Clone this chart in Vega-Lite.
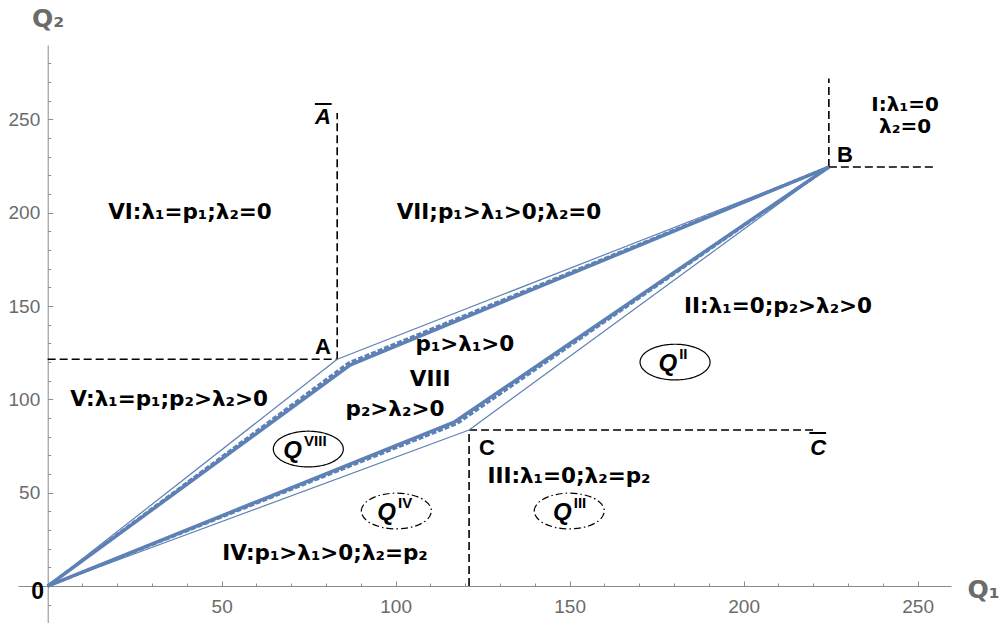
{
  "$schema": "https://vega.github.io/schema/vega-lite/v6.json",
  "width": 933,
  "height": 578,
  "autosize": {"type": "none"},
  "padding": {"left": 18, "top": 45, "right": 49, "bottom": 0},
  "config": {"view": {"stroke": null}, "font": "Liberation Sans"},
  "resolve": {"axis": {"x": "independent", "y": "independent"}},
  "datasets": {
    "curves": [
      {"x": 0, "y": 0, "g": "tu", "k": "thin", "o": 0},
      {"x": 83.2, "y": 121.5, "g": "tu", "k": "thin", "o": 1},
      {"x": 224.5, "y": 224.5, "g": "tu", "k": "thin", "o": 2},
      {"x": 0, "y": 0, "g": "tl", "k": "thin", "o": 0},
      {"x": 121.1, "y": 83.6, "g": "tl", "k": "thin", "o": 1},
      {"x": 224.5, "y": 224.5, "g": "tl", "k": "thin", "o": 2},
      {"x": 0, "y": 0, "g": "du", "k": "dashed", "o": 0},
      {"x": 86.5, "y": 119.6, "g": "du", "k": "dashed", "o": 1},
      {"x": 224.5, "y": 224.5, "g": "du", "k": "dashed", "o": 2},
      {"x": 0, "y": 0, "g": "dl", "k": "dashed", "o": 0},
      {"x": 117.6, "y": 87.0, "g": "dl", "k": "dashed", "o": 1},
      {"x": 224.5, "y": 224.5, "g": "dl", "k": "dashed", "o": 2},
      {"x": 0, "y": 0, "g": "ku", "k": "thick", "o": 0},
      {"x": 87.0, "y": 118.5, "g": "ku", "k": "thick", "o": 1},
      {"x": 224.5, "y": 224.5, "g": "ku", "k": "thick", "o": 2},
      {"x": 0, "y": 0, "g": "kl", "k": "thick", "o": 0},
      {"x": 117.0, "y": 88.0, "g": "kl", "k": "thick", "o": 1},
      {"x": 224.5, "y": 224.5, "g": "kl", "k": "thick", "o": 2}
    ],
    "guides": [
      {"x": 0, "y": 121.5, "x2": 83.2, "y2": 121.5},
      {"x": 83.2, "y": 121.5, "x2": 83.2, "y2": 253.5},
      {"x": 224.5, "y": 224.5, "x2": 224.5, "y2": 272},
      {"x": 224.5, "y": 224.5, "x2": 254.4, "y2": 224.5},
      {"x": 121.1, "y": 83.6, "x2": 220.5, "y2": 83.6},
      {"x": 121.1, "y": 0, "x2": 121.1, "y2": 83.6}
    ],
    "bars": [
      {"x": 76.8, "y": 258.3, "x2": 81.6, "y2": 258.3},
      {"x": 218.9, "y": 82.0, "x2": 223.7, "y2": 82.0}
    ],
    "labels": [
      {"x": 40.9, "y": 199.9, "t": "VI:λ₁=p₁;λ₂=0"},
      {"x": 129.7, "y": 199.9, "t": "VII;p₁>λ₁>0;λ₂=0"},
      {"x": 209.9, "y": 149.5, "t": "II:λ₁=0;p₂>λ₂>0"},
      {"x": 119.9, "y": 129.2, "t": "p₁>λ₁>0"},
      {"x": 109.9, "y": 110.4, "t": "VIII"},
      {"x": 99.8, "y": 94.3, "t": "p₂>λ₂>0"},
      {"x": 34.9, "y": 99.7, "t": "V:λ₁=p₁;p₂>λ₂>0"},
      {"x": 149.8, "y": 58.4, "t": "III:λ₁=0;λ₂=p₂"},
      {"x": 79.7, "y": 17.1, "t": "IV:p₁>λ₁>0;λ₂=p₂"}
    ],
    "corner": [
      {"x": 246.4, "y": 258.0, "t": "I:λ₁=0"},
      {"x": 246.4, "y": 246.0, "t": "λ₂=0"}
    ],
    "points": [
      {"x": 229.1, "y": 231.0, "t": "B"},
      {"x": 79.1, "y": 128.1, "t": "A"},
      {"x": 126.2, "y": 74.0, "t": "C"}
    ],
    "italics": [
      {"x": 79.1, "y": 251.1, "t": "A"},
      {"x": 221.4, "y": 74.0, "t": "C"}
    ],
    "origin": [{"x": -2.9, "y": -3.2, "t": "0"}],
    "ellipses": [
      {"x": 74.9, "y": 73.4, "k": "solid"},
      {"x": 100.2, "y": 40.2, "k": "dashdot"},
      {"x": 149.9, "y": 40.2, "k": "dashdot"},
      {"x": 180.3, "y": 120.0, "k": "solid"}
    ],
    "qs": [
      {"x": 73.1, "y": 73.4, "s": "VIII"},
      {"x": 100.1, "y": 40.2, "s": "IV"},
      {"x": 150.6, "y": 40.2, "s": "III"},
      {"x": 180.9, "y": 120.0, "s": "II"}
    ]
  },
  "encoding": {
    "x": {"field": "x", "type": "quantitative", "scale": {"domain": [-8.53, 259.6], "nice": false, "zero": false}, "axis": null},
    "y": {"field": "y", "type": "quantitative", "scale": {"domain": [-19.8, 289.9], "nice": false, "zero": false}, "axis": null}
  },
  "layer": [
    {
      "data": {"name": "guides"},
      "mark": {"type": "rule", "color": "black", "strokeWidth": 1.6, "strokeDash": [8, 4]},
      "encoding": {
        "x": {
          "field": "x",
          "type": "quantitative",
          "title": "Q₁",
          "scale": {"domain": [-8.53, 259.6], "nice": false, "zero": false},
          "axis": {
            "orient": "bottom",
            "values": [50, 100, 150, 200, 250],
            "ticks": false,
            "tickSize": 0,
            "offset": -37,
            "grid": false,
            "domainColor": "#8a8a8a",
            "labelColor": "#6b6b6b",
            "labelFontSize": 19,
            "labelPadding": 11,
            "labelFlush": false,
            "labelOverlap": false,
            "titleFont": "DejaVu Sans",
            "titleFontSize": 25,
            "titleFontWeight": "bold",
            "titleColor": "#6b6b6b",
            "titleAngle": 0,
            "titleAlign": "center",
            "titleBaseline": "middle",
            "titleX": 965,
            "titleY": 3
          }
        },
        "y": {
          "field": "y",
          "type": "quantitative",
          "title": "Q₂",
          "scale": {"domain": [-19.8, 289.9], "nice": false, "zero": false},
          "axis": {
            "orient": "left",
            "values": [50, 100, 150, 200, 250],
            "ticks": false,
            "tickSize": 0,
            "offset": -29.7,
            "grid": false,
            "domainColor": "#8a8a8a",
            "labelColor": "#6b6b6b",
            "labelFontSize": 19,
            "labelPadding": 8,
            "labelFlush": false,
            "labelOverlap": false,
            "titleFont": "DejaVu Sans",
            "titleFontSize": 25,
            "titleFontWeight": "bold",
            "titleColor": "#6b6b6b",
            "titleAngle": 0,
            "titleAlign": "center",
            "titleBaseline": "middle",
            "titleX": 0,
            "titleY": -27
          }
        },
        "x2": {"field": "x2"},
        "y2": {"field": "y2"}
      }
    },
    {
      "data": {"name": "curves"},
      "transform": [{"filter": "datum.k === 'thin'"}],
      "mark": {"type": "line", "color": "#5e81b5", "strokeWidth": 1.2, "strokeJoin": "round"},
      "encoding": {
        "x": {
          "field": "x",
          "type": "quantitative",
          "scale": {"domain": [-8.53, 259.6], "nice": false, "zero": false},
          "axis": {
            "orient": "top",
            "values": [10, 20, 30, 40, 50, 60, 70, 80, 90, 100, 110, 120, 130, 140, 150, 160, 170, 180, 190, 200, 210, 220, 230, 240, 250],
            "labels": false,
            "domain": false,
            "grid": false,
            "title": null,
            "offset": -541,
            "tickColor": "#8a8a8a",
            "tickSize": {"condition": {"test": "datum.value % 50 === 0", "value": 5}, "value": 3}
          }
        },
        "y": {
          "field": "y",
          "type": "quantitative",
          "scale": {"domain": [-19.8, 289.9], "nice": false, "zero": false},
          "axis": {
            "orient": "right",
            "values": [-10, 10, 20, 30, 40, 50, 60, 70, 80, 90, 100, 110, 120, 130, 140, 150, 160, 170, 180, 190, 200, 210, 220, 230, 240, 250, 260, 270, 280],
            "labels": false,
            "domain": false,
            "grid": false,
            "title": null,
            "offset": -903.3,
            "tickColor": "#8a8a8a",
            "tickSize": {"condition": {"test": "datum.value % 50 === 0", "value": 5}, "value": 3}
          }
        },
        "detail": {"field": "g"},
        "order": {"field": "o"}
      }
    },
    {
      "data": {"name": "curves"},
      "transform": [{"filter": "datum.k === 'dashed'"}],
      "mark": {"type": "line", "color": "#5e81b5", "strokeWidth": 3, "strokeDash": [5, 2], "strokeJoin": "round"},
      "encoding": {"detail": {"field": "g"}, "order": {"field": "o"}}
    },
    {
      "data": {"name": "curves"},
      "transform": [{"filter": "datum.k === 'thick'"}],
      "mark": {"type": "line", "color": "#5e81b5", "strokeWidth": 3.5, "strokeJoin": "round"},
      "encoding": {"detail": {"field": "g"}, "order": {"field": "o"}}
    },
    {
      "data": {"name": "bars"},
      "mark": {"type": "rule", "color": "black", "strokeWidth": 2},
      "encoding": {"x2": {"field": "x2"}, "y2": {"field": "y2"}}
    },
    {
      "data": {"name": "labels"},
      "mark": {"type": "text", "font": "DejaVu Sans", "fontSize": 21.5, "fontWeight": "bold", "color": "black", "align": "center", "baseline": "middle"},
      "encoding": {"text": {"field": "t"}}
    },
    {
      "data": {"name": "corner"},
      "mark": {"type": "text", "font": "DejaVu Sans", "fontSize": 20, "fontWeight": "bold", "color": "black", "align": "center", "baseline": "middle"},
      "encoding": {"text": {"field": "t"}}
    },
    {
      "data": {"name": "points"},
      "mark": {"type": "text", "fontSize": 22, "fontWeight": "bold", "color": "black", "align": "center", "baseline": "middle"},
      "encoding": {"text": {"field": "t"}}
    },
    {
      "data": {"name": "italics"},
      "mark": {"type": "text", "fontSize": 22, "fontWeight": "bold", "fontStyle": "italic", "color": "black", "align": "center", "baseline": "middle"},
      "encoding": {"text": {"field": "t"}}
    },
    {
      "data": {"name": "origin"},
      "mark": {"type": "text", "fontSize": 23, "fontWeight": "bold", "color": "black", "align": "center", "baseline": "middle"},
      "encoding": {"text": {"field": "t"}}
    },
    {
      "data": {"name": "ellipses"},
      "mark": {"type": "point", "shape": "M-1,0C-1,-0.282,-0.552,-0.51,0,-0.51C0.552,-0.51,1,-0.282,1,0C1,0.282,0.552,0.51,0,0.51C-0.552,0.51,-1,0.282,-1,0Z", "size": 4900, "filled": false, "color": "black", "strokeWidth": 1.2, "opacity": 1},
      "encoding": {
        "strokeDash": {"field": "k", "type": "nominal", "scale": {"domain": ["solid", "dashdot"], "range": [[1, 0], [7, 3, 1.5, 3]]}, "legend": null}
      }
    },
    {
      "data": {"name": "qs"},
      "mark": {"type": "text", "text": "Q", "fontSize": 24, "fontWeight": "bold", "fontStyle": "italic", "color": "black", "align": "right", "baseline": "middle", "dy": 2}
    },
    {
      "data": {"name": "qs"},
      "mark": {"type": "text", "fontSize": 15, "fontWeight": "bold", "color": "black", "align": "left", "baseline": "middle", "dx": 2, "dy": -8},
      "encoding": {"text": {"field": "s"}}
    }
  ]
}
